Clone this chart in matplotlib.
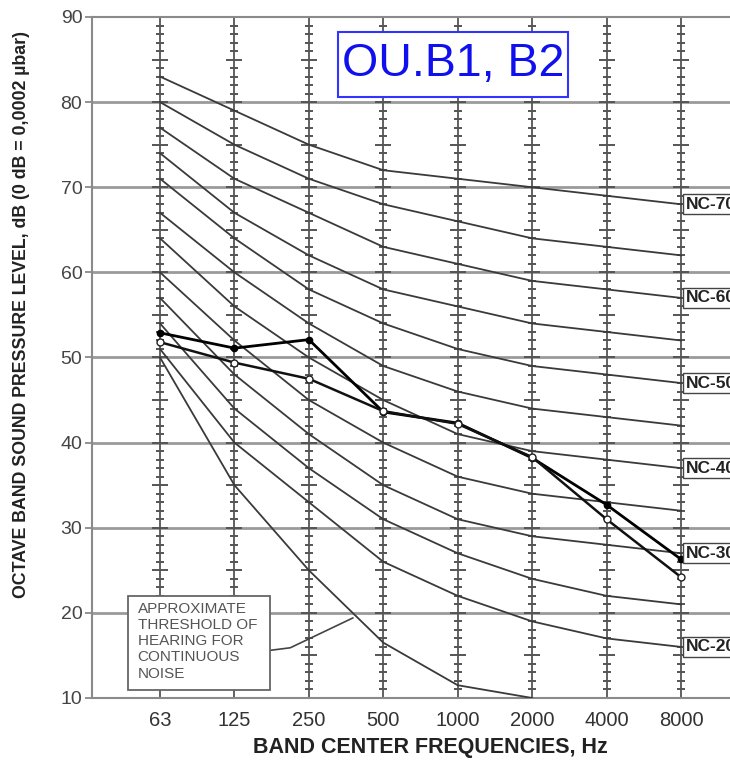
import matplotlib
matplotlib.use("Agg")
import matplotlib.pyplot as plt
from matplotlib.patches import Rectangle
import numpy as np

plt.rcParams['font.family'] = ['Liberation Sans', 'DejaVu Sans']

freqs = ["63", "125", "250", "500", "1000", "2000", "4000", "8000"]
nc_curves = {
    "NC-70": [83, 79, 75, 72, 71, 70, 69, 68],
    "NC-65": [80, 75, 71, 68, 66, 64, 63, 62],
    "NC-60": [77, 71, 67, 63, 61, 59, 58, 57],
    "NC-55": [74, 67, 62, 58, 56, 54, 53, 52],
    "NC-50": [71, 64, 58, 54, 51, 49, 48, 47],
    "NC-45": [67, 60, 54, 49, 46, 44, 43, 42],
    "NC-40": [64, 56, 50, 45, 41, 39, 38, 37],
    "NC-35": [60, 52, 45, 40, 36, 34, 33, 32],
    "NC-30": [57, 48, 41, 35, 31, 29, 28, 27],
    "NC-25": [54, 44, 37, 31, 27, 24, 22, 21],
    "NC-20": [51, 40, 33, 26, 22, 19, 17, 16],
}
nc_labelled = ["NC-70", "NC-60", "NC-50", "NC-40", "NC-30", "NC-20"]
threshold = [50, 35, 25, 16.5, 11.5, 10]
b1 = [52.9, 51.1, 52.1, 43.6, 42.3, 38.2, 32.7, 26.3]
b2 = [51.8, 49.4, 47.5, 43.7, 42.2, 38.3, 31.0, 24.2]
yticks = [10, 20, 30, 40, 50, 60, 70, 80, 90]

fig = plt.figure(figsize=(7.30, 7.64), dpi=100)
ax = fig.add_axes([92/730, 66/764, 656/730, 681/764])
x = np.arange(len(freqs))
ax.set_xlim(-0.914, 7.9)
ax.set_ylim(10, 90)

# horizontal grid
for yv in yticks[1:-1]:
    ax.axhline(yv, color='#9a9a9a', lw=2.0, zorder=1)

# rulers
lvl = np.arange(10, 91)
minor = lvl[lvl % 5 != 0]
major = lvl[lvl % 5 == 0]
for xi in x:
    ax.plot([xi, xi], [10, 90], color='#555555', lw=1.3, zorder=2)
    ax.plot(np.full(len(minor), xi), minor, ls='none', marker='_', ms=6,
            mew=1.4, color='#555555', zorder=2)
    ax.plot(np.full(len(major), xi), major, ls='none', marker='_', ms=11,
            mew=1.4, color='#555555', zorder=2)

# NC curves
for name, vals in nc_curves.items():
    ax.plot(x, vals, color='#3a3a3a', lw=1.3, zorder=3)
    if name in nc_labelled:
        ax.text(7.06, vals[-1], name, ha='left', va='center', fontsize=12.5,
                fontweight='bold', color='#222222', zorder=6, clip_on=False,
                bbox=dict(boxstyle='square,pad=0.15', fc='white', ec='#444444', lw=1.0))

ax.plot(x[:len(threshold)], threshold, color='#3a3a3a', lw=1.3, zorder=3)

# measured
ax.plot(x, b1, color='black', lw=2.0, marker='o', ms=4.5, mfc='black',
        mec='black', zorder=5)
ax.plot(x, b2, color='#111111', lw=1.8, marker='o', ms=5, mfc='white',
        mec='#222222', mew=1.0, zorder=5)

# threshold annotation
ax.plot([1.48, 1.75, 2.59], [15.6, 15.9, 19.4], color='#444444', lw=1.2, zorder=4)
ax.add_patch(Rectangle((-0.43, 10.94), 1.91, 11.05, fc='white', ec='#666666',
                       lw=1.3, zorder=7))
ax.text(-0.30, 21.3,
        "APPROXIMATE\nTHRESHOLD OF\nHEARING FOR\nCONTINUOUS\nNOISE",
        ha='left', va='top', fontsize=11, color='#555555', linespacing=1.2,
        zorder=8)

# title box
fig.patches.append(Rectangle((338/730, 1 - 97/764), 230/730, 65/764,
                             transform=fig.transFigure, fc='white',
                             ec='#3333ff', lw=1.5, zorder=10))
fig.text(453/730, 1 - 64/764, "OU.B1, B2", ha='center', va='center',
         fontsize=33.5, color='#1010ee', zorder=11)

# spines / ticks
for s in ['left', 'top', 'bottom']:
    ax.spines[s].set_color('#8a8a8a')
    ax.spines[s].set_linewidth(1.5)
ax.spines['right'].set_visible(False)
ax.set_yticks(yticks)
ax.set_yticklabels([str(v) for v in yticks], fontsize=14, color='#444444')
ax.tick_params(axis='y', length=5, width=1.3, color='#8a8a8a', pad=2)
ax.set_xticks(x)
ax.set_xticklabels(freqs, fontsize=14.5, color='#333333')
ax.tick_params(axis='x', length=0, pad=9)

fig.text(430/730, 1 - 748/764, "BAND CENTER FREQUENCIES, Hz", ha='center',
         va='center', fontsize=15.5, fontweight='bold', color='#222222')
fig.text(22/730, 1 - 314/764,
         "OCTAVE BAND SOUND PRESSURE LEVEL, dB (0 dB = 0,0002 \u00b5bar)",
         ha='center', va='center', rotation=90, fontsize=12.8, fontweight='bold',
         color='#222222')

fig.savefig("out.png", dpi=100)
